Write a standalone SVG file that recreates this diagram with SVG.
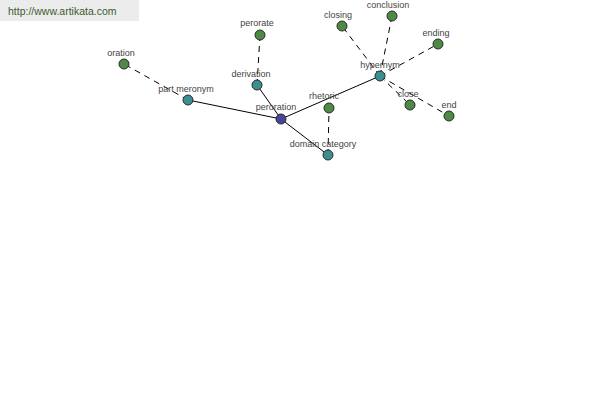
<svg xmlns="http://www.w3.org/2000/svg" width="600" height="400" viewBox="0 0 600 400">
<style>
.e{stroke:#000;stroke-width:1;fill:none}
.d{stroke-dasharray:6,5}
.n circle{stroke:#2a2a2a;stroke-width:1}
.g circle{fill:#4e8a45}
.t circle{fill:#3b8f90}
.b circle{fill:#45459a}
text{font-family:"Liberation Sans",Arial,sans-serif;font-size:9px;fill:#444;text-anchor:middle}
</style>
<rect width="600" height="400" fill="#fff"/>
<rect x="0" y="0" width="139" height="21" fill="#ececec"/>
<text x="8" y="15" style="font-size:10.5px;fill:#3d5a2e;text-anchor:start">http://www.artikata.com</text>
<g id="connectors">
<line class="e" x1="281" y1="119" x2="188" y2="100"/>
<line class="e" x1="281" y1="119" x2="257" y2="85"/>
<line class="e" x1="281" y1="119" x2="380" y2="76"/>
<line class="e" x1="281" y1="119" x2="328" y2="155"/>
<line class="e d" x1="188" y1="100" x2="124" y2="64"/>
<line class="e d" x1="257" y1="85" x2="260" y2="35"/>
<line class="e d" x1="328" y1="155" x2="329" y2="108"/>
<line class="e d" x1="380" y1="76" x2="342" y2="26"/>
<line class="e d" x1="380" y1="76" x2="392" y2="16"/>
<line class="e d" x1="380" y1="76" x2="438" y2="44"/>
<line class="e d" x1="380" y1="76" x2="410" y2="105"/>
<line class="e d" x1="380" y1="76" x2="449" y2="116"/>
</g>
<g id="oration" class="n g"><circle cx="124" cy="64" r="5"/><text x="121" y="56">oration</text></g>
<g id="part_meronym" class="n t"><circle cx="188" cy="100" r="5"/><text x="186" y="92">part meronym</text></g>
<g id="perorate" class="n g"><circle cx="260" cy="35" r="5"/><text x="257" y="26">perorate</text></g>
<g id="derivation" class="n t"><circle cx="257" cy="85" r="5"/><text x="251" y="77">derivation</text></g>
<g id="peroration" class="n b"><circle cx="281" cy="119" r="5"/><text x="276" y="110">peroration</text></g>
<g id="rhetoric" class="n g"><circle cx="329" cy="108" r="5"/><text x="324" y="99">rhetoric</text></g>
<g id="domain_category" class="n t"><circle cx="328" cy="155" r="5"/><text x="323" y="147">domain category</text></g>
<g id="hypernym" class="n t"><circle cx="380" cy="76" r="5"/><text x="380" y="68">hypernym</text></g>
<g id="closing" class="n g"><circle cx="342" cy="26" r="5"/><text x="338" y="18">closing</text></g>
<g id="conclusion" class="n g"><circle cx="392" cy="16" r="5"/><text x="388" y="8">conclusion</text></g>
<g id="ending" class="n g"><circle cx="438" cy="44" r="5"/><text x="436" y="36">ending</text></g>
<g id="close" class="n g"><circle cx="410" cy="105" r="5"/><text x="408" y="97">close</text></g>
<g id="end" class="n g"><circle cx="449" cy="116" r="5"/><text x="449" y="108">end</text></g>
</svg>
